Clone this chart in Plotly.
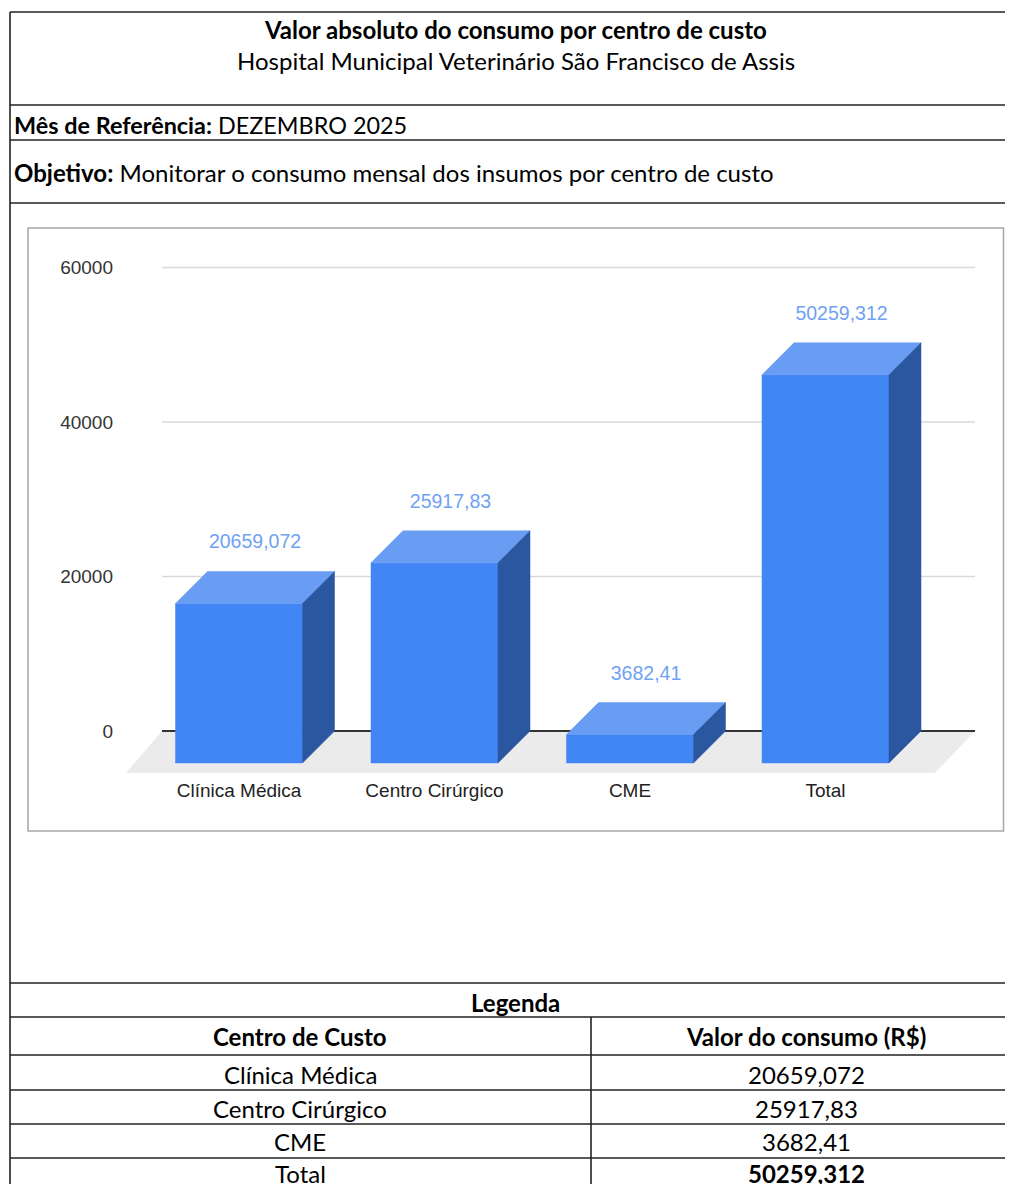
import plotly.graph_objects as go

# page body has an 8px margin: the figure is drawn 8px in from top-left
OFF = 8
W, H = 1013 - OFF, 1184 - OFF

# ---------------- data ----------------
categories = ["Clínica Médica", "Centro Cirúrgico", "CME", "Total"]
values = [20659.072, 25917.83, 3682.41, 50259.312]
value_labels = ["20659,072", "25917,83", "3682,41", "50259,312"]
y_ticks = [0, 20000, 40000, 60000]

title = "Valor absoluto do consumo por centro de custo"
subtitle = "Hospital Municipal Veterinário São Francisco de Assis"
mes_label = "Mês de Referência:"
mes_value = "DEZEMBRO 2025"
obj_label = "Objetivo:"
obj_value = "Monitorar o consumo mensal dos insumos por centro de custo"
legend_title = "Legenda"
table_headers = ["Centro de Custo", "Valor do consumo (R$)"]
table_col1 = categories
table_col2 = value_labels

# ---------------- helpers ----------------
def px(x):
    return (x - OFF) / W


def py(y):
    return 1 - (y - OFF) / H


HDR_FONT = "Lato, 'Open Sans', sans-serif"
CH_FONT = "Arial, 'Liberation Sans', sans-serif"

# 3D geometry (in axis units)
HW = 0.3248          # half bar width
DX = 0.1637          # depth offset along x
DY = 4142            # depth offset along y
LG = 3600            # label gap above bar
BACK_L, BACK_R = -0.394, 3.765
FRONT_L, FRONT_R = -0.578, 3.56
FLOOR_D = -5437

FRONT_C = "#4285F4"
TOP_C = "#699DF3"
SIDE_C = "#2B57A0"

fig = go.Figure()

# floor
fig.add_trace(go.Scatter(
    x=[BACK_L, BACK_R, FRONT_R, FRONT_L, BACK_L],
    y=[0, 0, FLOOR_D, FLOOR_D, 0],
    fill="toself", fillcolor="#ebebeb", mode="lines",
    line=dict(width=0, color="#ebebeb"), hoverinfo="skip", showlegend=False))

# gridlines
for t in y_ticks[1:]:
    fig.add_trace(go.Scatter(
        x=[BACK_L, BACK_R], y=[t, t], mode="lines",
        line=dict(color="#d9d9d9", width=1.5), hoverinfo="skip", showlegend=False))

# zero line
fig.add_trace(go.Scatter(
    x=[BACK_L, BACK_R], y=[0, 0], mode="lines",
    line=dict(color="#333333", width=2), hoverinfo="skip", showlegend=False))

# bars
for i, v in enumerate(values):
    fig.add_trace(go.Scatter(
        x=[i - HW, i + HW, i + HW, i - HW, i - HW],
        y=[-DY, -DY, v - DY, v - DY, -DY],
        fill="toself", fillcolor=FRONT_C, mode="lines",
        line=dict(width=0.5, color=FRONT_C), hoverinfo="skip", showlegend=False))
    fig.add_trace(go.Scatter(
        x=[i - HW, i + HW, i + HW + DX, i - HW + DX, i - HW],
        y=[v - DY, v - DY, v, v, v - DY],
        fill="toself", fillcolor=TOP_C, mode="lines",
        line=dict(width=0.5, color=TOP_C), hoverinfo="skip", showlegend=False))
    fig.add_trace(go.Scatter(
        x=[i + HW, i + HW + DX, i + HW + DX, i + HW, i + HW],
        y=[-DY, 0, v, v - DY, -DY],
        fill="toself", fillcolor=SIDE_C, mode="lines",
        line=dict(width=0.5, color=SIDE_C), hoverinfo="skip", showlegend=False))

# value labels
fig.add_trace(go.Scatter(
    x=[i + DX / 2 for i in range(len(values))],
    y=[v + LG for v in values],
    text=value_labels, mode="text", textposition="middle center",
    textfont=dict(family=CH_FONT, size=19.5, color="#6fa2f4"),
    hoverinfo="skip", showlegend=False))

# ---------------- layout ----------------
shapes = []
# chart box
shapes.append(dict(type="rect", xref="paper", yref="paper",
                   x0=px(28), x1=px(1003.5), y0=py(831), y1=py(228),
                   line=dict(color="#a6a6a6", width=1.5), layer="below"))
# outer/table lines
for yy in [12, 105, 140, 203, 983, 1017, 1055, 1090, 1124, 1158]:
    shapes.append(dict(type="line", xref="paper", yref="paper",
                       x0=px(10), x1=px(1013), y0=py(yy), y1=py(yy),
                       line=dict(color="#222222", width=1.6)))
shapes.append(dict(type="line", xref="paper", yref="paper",
                   x0=px(10), x1=px(10), y0=py(12), y1=0,
                   line=dict(color="#222222", width=1.6)))
shapes.append(dict(type="line", xref="paper", yref="paper",
                   x0=px(591), x1=px(591), y0=py(1017), y1=0,
                   line=dict(color="#222222", width=1.6)))

ann = []


def txt(x, y, s, size=24, anchor="center", color="#000000", font=HDR_FONT):
    ann.append(dict(x=px(x), y=py(y), xref="paper", yref="paper", text=s,
                    showarrow=False, xanchor=anchor, yanchor="middle",
                    font=dict(family=font, size=size, color=color)))


txt(516, 29, "<b>" + title + "</b>")
txt(516, 60, subtitle)
txt(12, 125, "<b>" + mes_label + "</b> " + mes_value, size=23.4, anchor="left")
txt(12, 172, "<b>" + obj_label + "</b> " + obj_value, anchor="left")
txt(516, 1002, "<b>" + legend_title + "</b>")
txt(300, 1036, "<b>" + table_headers[0] + "</b>")
txt(806, 1036, "<b>" + table_headers[1] + "</b>")
row_y = [1074, 1108, 1141, 1173]
for k, (a, b) in enumerate(zip(table_col1, table_col2)):
    last = k == len(table_col1) - 1
    txt(300, row_y[k], a)
    txt(806, row_y[k], "<b>" + b + "</b>" if last else b)

fig.update_layout(
    width=W, height=H,
    margin=dict(l=0, r=0, t=0, b=0),
    paper_bgcolor="white", plot_bgcolor="rgba(0,0,0,0)",
    showlegend=False,
    shapes=shapes, annotations=ann,
    xaxis=dict(domain=[px(120), px(990)], range=[-0.6087, 3.8414],
               tickvals=list(range(len(categories))), ticktext=categories,
               showgrid=False, zeroline=False, showline=False,
               ticks="", ticklabelstandoff=2,
               tickfont=dict(family=CH_FONT, size=19, color="#222222"),
               fixedrange=True),
    yaxis=dict(domain=[py(775), py(250)], range=[-5696, 62265],
               tickvals=y_ticks, ticktext=[str(t) for t in y_ticks],
               showgrid=False, zeroline=False, showline=False,
               ticks="", ticklabelstandoff=6,
               tickfont=dict(family=CH_FONT, size=19, color="#333333"),
               fixedrange=True),
)

fig.write_html("out.html", config={"displayModeBar": False},
               default_width=f"{W}px", default_height=f"{H}px")
